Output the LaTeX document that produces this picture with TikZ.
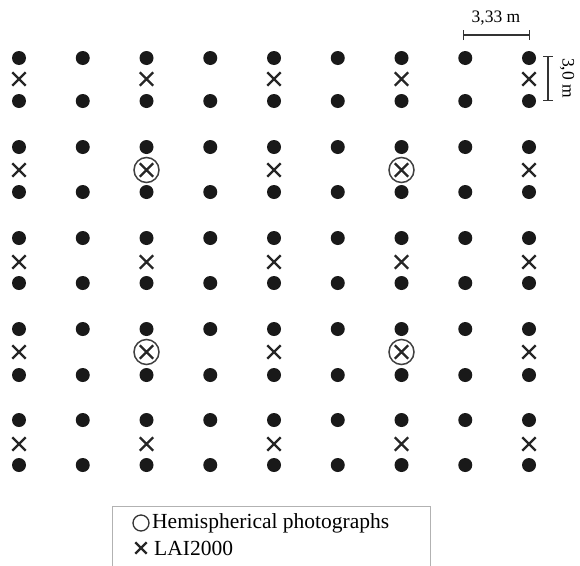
\documentclass[tikz,border=0pt]{standalone}
\usepackage{fontspec}
\setmainfont{Liberation Serif}
\usetikzlibrary{shapes.misc,arrows.meta}
\begin{document}
\begin{tikzpicture}[x=1pt,y=-1pt,
  dot/.style={circle,fill=black!90,inner sep=0pt,minimum size=14pt},
  lai/.style={cross out,draw=black!85,line width=2.4pt,inner sep=0pt,minimum size=11pt},
  hemi/.style={circle,draw=black!75,line width=1.5pt,inner sep=0pt,minimum size=25pt},
  bar/.style={line width=1.3pt,draw=black!80,{Bar[width=10pt]}-{Bar[width=10pt]}},
  lbl/.style={inner sep=0pt,font=\fontsize{17.5}{20}\selectfont},
  leg/.style={inner sep=0pt,anchor=west,font=\fontsize{21.5}{24}\selectfont}]
\useasboundingbox (0,0) rectangle (580,565);
\foreach \r/\ya/\yb/\yc in {1/58/101/79, 2/147/192/170, 3/238/283/262, 4/329/375/352, 5/420/465/444} {
  \foreach \c in {0,...,8} {
    \node[dot] (a-\r-\c) at ({19+63.75*\c},\ya) {};
    \node[dot] (b-\r-\c) at ({19+63.75*\c},\yb) {};
  }
  \foreach \c in {0,2,4,6,8}
    \node[lai] (x-\r-\c) at ({19+63.75*\c},\yc) {};
}
\node[hemi] (h1) at (x-2-2) {};
\node[hemi] (h2) at (x-2-6) {};
\node[hemi] (h3) at (x-4-2) {};
\node[hemi] (h4) at (x-4-6) {};
% scale bars
\coordinate (hs) at (463,35);
\coordinate (he) at (530,35);
\draw[bar] (hs) -- (he);
\node[lbl] (hl) at (496,18) {3,33 m};
\coordinate (vs) at (548,56);
\coordinate (ve) at (548,101);
\draw[bar] (vs) -- (ve);
\node[lbl,rotate=-90] (vl) at (567,78) {3,0 m};
% legend
\draw[draw=black!30,line width=0.8pt] (112,566) -- (112,506) -- (430,506) -- (430,566);
\node[circle,draw=black!80,line width=1.3pt,inner sep=0pt,minimum size=16pt] (lc) at (141,523) {};
\node[leg] (lt1) at (152,523) {Hemispherical photographs};
\node[lai,minimum size=9pt] (lx) at (141,548) {};
\node[leg] (lt2) at (154,548) {LAI2000};
\end{tikzpicture}
\end{document}
